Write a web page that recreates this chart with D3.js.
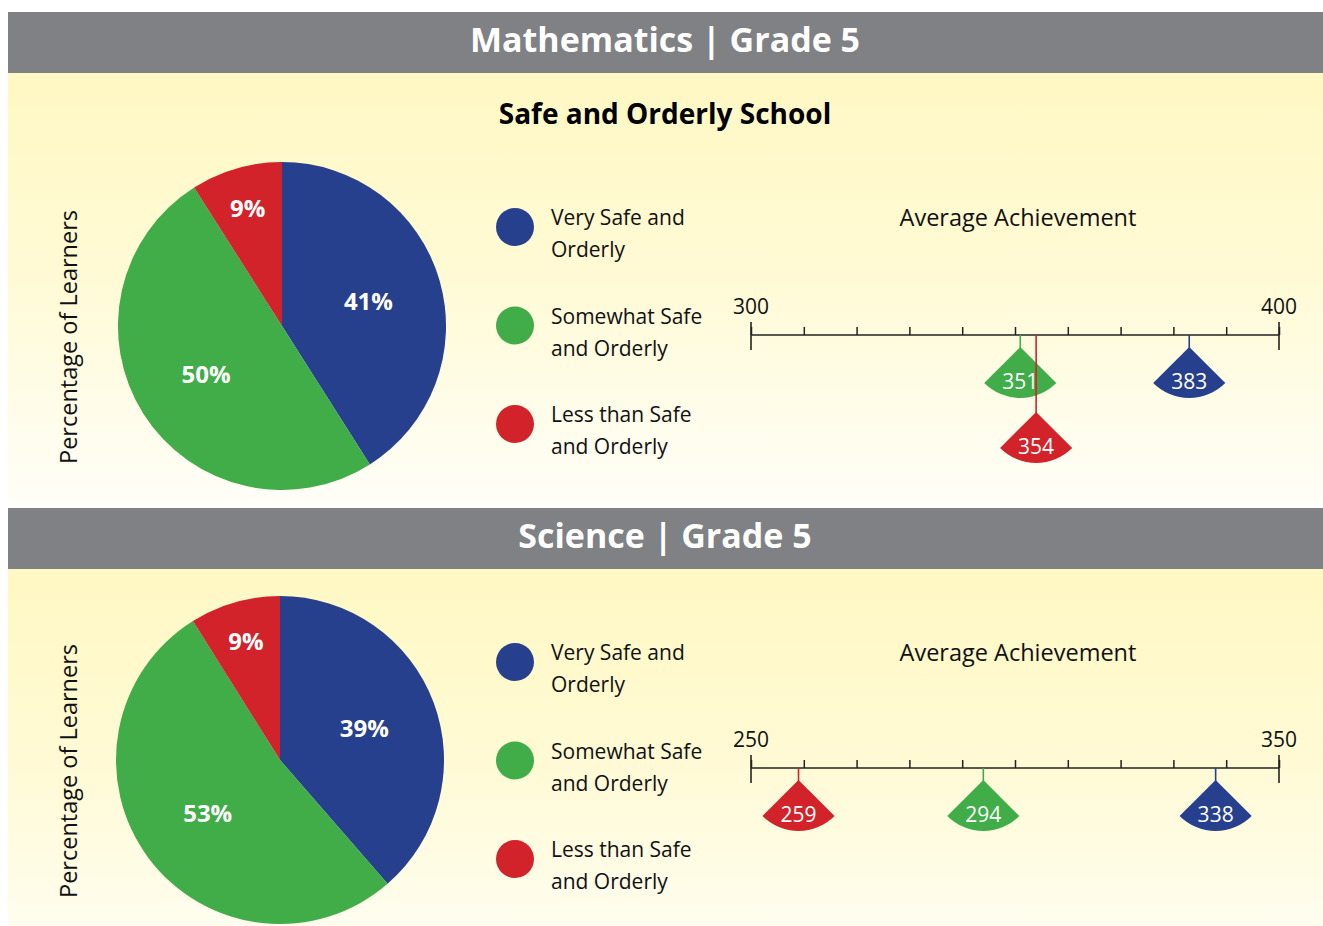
<!DOCTYPE html>
<html>
<head>
<meta charset="utf-8">
<script src="https://cdn.jsdelivr.net/npm/d3@7"></script>
<style>
  body { margin: 0; background: #fff; }
  text { font-family: "Open Sans", "Noto Sans", sans-serif; }
</style>
</head>
<body>
<div id="chart"></div>
<script>
// data
const categories = ["Very Safe and Orderly", "Somewhat Safe and Orderly", "Less than Safe and Orderly"];
const legendLines = [["Very Safe and", "Orderly"], ["Somewhat Safe", "and Orderly"], ["Less than Safe", "and Orderly"]];
const colors = ["#26408e", "#41ad49", "#d2232a"];

const mathShares = [41, 50, 9];
const mathScores = [383, 351, 354];
const mathRange = [300, 400];

const sciShares = [39, 53, 9];
const sciScores = [338, 294, 259];
const sciRange = [250, 350];

const width = 1323, height = 926;

var svg = d3.select("#chart").append("svg")
  .attr("width", width)
  .attr("height", height);

var defs = svg.append("defs");
var grad = defs.append("linearGradient")
  .attr("id", "panelGrad")
  .attr("x1", 0).attr("y1", 0).attr("x2", 0).attr("y2", 1);
grad.append("stop").attr("offset", "0%").attr("stop-color", "#fff8c4");
grad.append("stop").attr("offset", "45%").attr("stop-color", "#fffad4");
grad.append("stop").attr("offset", "100%").attr("stop-color", "#fffef8");

function drawPanel(opt) {
  var g = svg.append("g").attr("transform", "translate(0," + opt.top + ")");

  // header band
  g.append("rect")
    .attr("x", 8).attr("y", 0)
    .attr("width", width - 8).attr("height", 61)
    .attr("fill", "#808184");
  g.append("text")
    .attr("x", 665).attr("y", 40)
    .attr("text-anchor", "middle")
    .attr("fill", "#fff")
    .attr("font-size", 34)
    .attr("font-weight", "bold")
    .text(opt.header);

  // yellow panel
  g.append("rect")
    .attr("x", 8).attr("y", 61)
    .attr("width", width - 8).attr("height", opt.panelH)
    .attr("fill", "url(#panelGrad)");

  if (opt.subtitle) {
    g.append("text")
      .attr("x", 665).attr("y", 112)
      .attr("text-anchor", "middle")
      .attr("font-size", 28)
      .attr("font-weight", "bold")
      .attr("fill", "#000")
      .text(opt.subtitle);
  }

  // pie
  var R = 164;
  var pie = d3.pie().sort(null).value(d => d);
  var arc = d3.arc().innerRadius(0).outerRadius(R);
  var pg = g.append("g").attr("transform", "translate(" + opt.pieX + "," + opt.pieY + ")");
  var arcs = pie(opt.shares);
  pg.selectAll("path")
    .data(arcs)
    .enter().append("path")
    .attr("d", arc)
    .attr("fill", (d, i) => colors[i]);
  pg.selectAll("text")
    .data(arcs)
    .enter().append("text")
    .attr("transform", function(d) {
      var r = d.value < 15 ? 123 : 90;
      var a = (d.startAngle + d.endAngle) / 2;
      return "translate(" + (r * Math.sin(a)) + "," + (-r * Math.cos(a)) + ")";
    })
    .attr("dy", "0.36em")
    .attr("text-anchor", "middle")
    .attr("fill", "#fff")
    .attr("font-size", 24)
    .attr("font-weight", "bold")
    .text(d => d.data + "%");

  g.append("text")
    .attr("transform", "translate(77," + (opt.pieY + 11) + ") rotate(-90)")
    .attr("text-anchor", "middle")
    .attr("font-size", 23.5)
    .attr("fill", "#111")
    .text("Percentage of Learners");

  // legend
  var leg = g.selectAll(".leg")
    .data(categories)
    .enter().append("g")
    .attr("class", "leg")
    .attr("transform", (d, i) => "translate(515," + (opt.legendY + i * 98.5) + ")");
  leg.append("circle").attr("r", 19).attr("fill", (d, i) => colors[i]);
  leg.each(function(d, i) {
    var t = d3.select(this).append("text")
      .attr("x", 36)
      .attr("font-size", 21)
      .attr("fill", "#111");
    t.append("tspan").attr("x", 36).attr("y", -2).text(legendLines[i][0]);
    t.append("tspan").attr("x", 36).attr("y", 30).text(legendLines[i][1]);
  });

  // achievement scale
  g.append("text")
    .attr("x", 1018).attr("y", opt.legendY - 1)
    .attr("text-anchor", "middle")
    .attr("font-size", 23.5)
    .attr("fill", "#111")
    .text("Average Achievement");

  var x = d3.scaleLinear().domain(opt.range).range([751, 1279]);
  var ay = opt.axisY;
  var axisG = g.append("g").attr("transform", "translate(0," + ay + ")");
  axisG.call(d3.axisTop(x).ticks(10).tickSize(8).tickFormat(""))
    .call(s => s.select(".domain").remove())
    .call(s => s.selectAll(".tick line").attr("stroke", "#222").attr("stroke-width", 1.5));
  axisG.append("line")
    .attr("x1", x(opt.range[0])).attr("x2", x(opt.range[1]))
    .attr("stroke", "#222").attr("stroke-width", 1.6);
  axisG.selectAll(".endtick")
    .data(opt.range)
    .enter().append("line")
    .attr("x1", d => x(d)).attr("x2", d => x(d))
    .attr("y1", -13).attr("y2", 15)
    .attr("stroke", "#222").attr("stroke-width", 1.6);
  axisG.selectAll(".endlabel")
    .data(opt.range)
    .enter().append("text")
    .attr("x", d => x(d)).attr("y", -21)
    .attr("text-anchor", "middle")
    .attr("font-size", 21)
    .attr("fill", "#111")
    .text(d => d);

  // markers, stacked when they collide
  var placed = [];
  var markers = opt.scores.map(function(s, i) {
    var level = 0;
    while (placed.some(p => p.level === level && Math.abs(x(p.score) - x(s)) < 76)) level++;
    var m = { score: s, i: i, level: level };
    placed.push(m);
    return m;
  });
  var fan = d3.arc().innerRadius(0).outerRadius(51)
    .startAngle(Math.PI * 0.75).endAngle(Math.PI * 1.25);
  var mg = g.selectAll(".marker")
    .data(markers)
    .enter().append("g")
    .attr("class", "marker")
    .attr("transform", d => "translate(" + x(d.score) + "," + (ay + 12 + d.level * 65) + ")");
  mg.append("line")
    .attr("y1", d => -12 - d.level * 65).attr("y2", 2)
    .attr("stroke", d => colors[d.i]).attr("stroke-width", 1.6);
  mg.append("path")
    .attr("d", fan())
    .attr("fill", d => colors[d.i]);
  mg.append("text")
    .attr("y", 42)
    .attr("text-anchor", "middle")
    .attr("font-size", 21)
    .attr("fill", "#fff")
    .text(d => d.score);
}

drawPanel({
  top: 12, panelH: 435, header: "Mathematics | Grade 5", subtitle: "Safe and Orderly School",
  pieX: 282, pieY: 314, shares: mathShares, legendY: 215, range: mathRange, scores: mathScores, axisY: 323
});
drawPanel({
  top: 508, panelH: 420, header: "Science | Grade 5", subtitle: null,
  pieX: 280, pieY: 252, shares: sciShares, legendY: 154, range: sciRange, scores: sciScores, axisY: 260
});
</script>
</body>
</html>
